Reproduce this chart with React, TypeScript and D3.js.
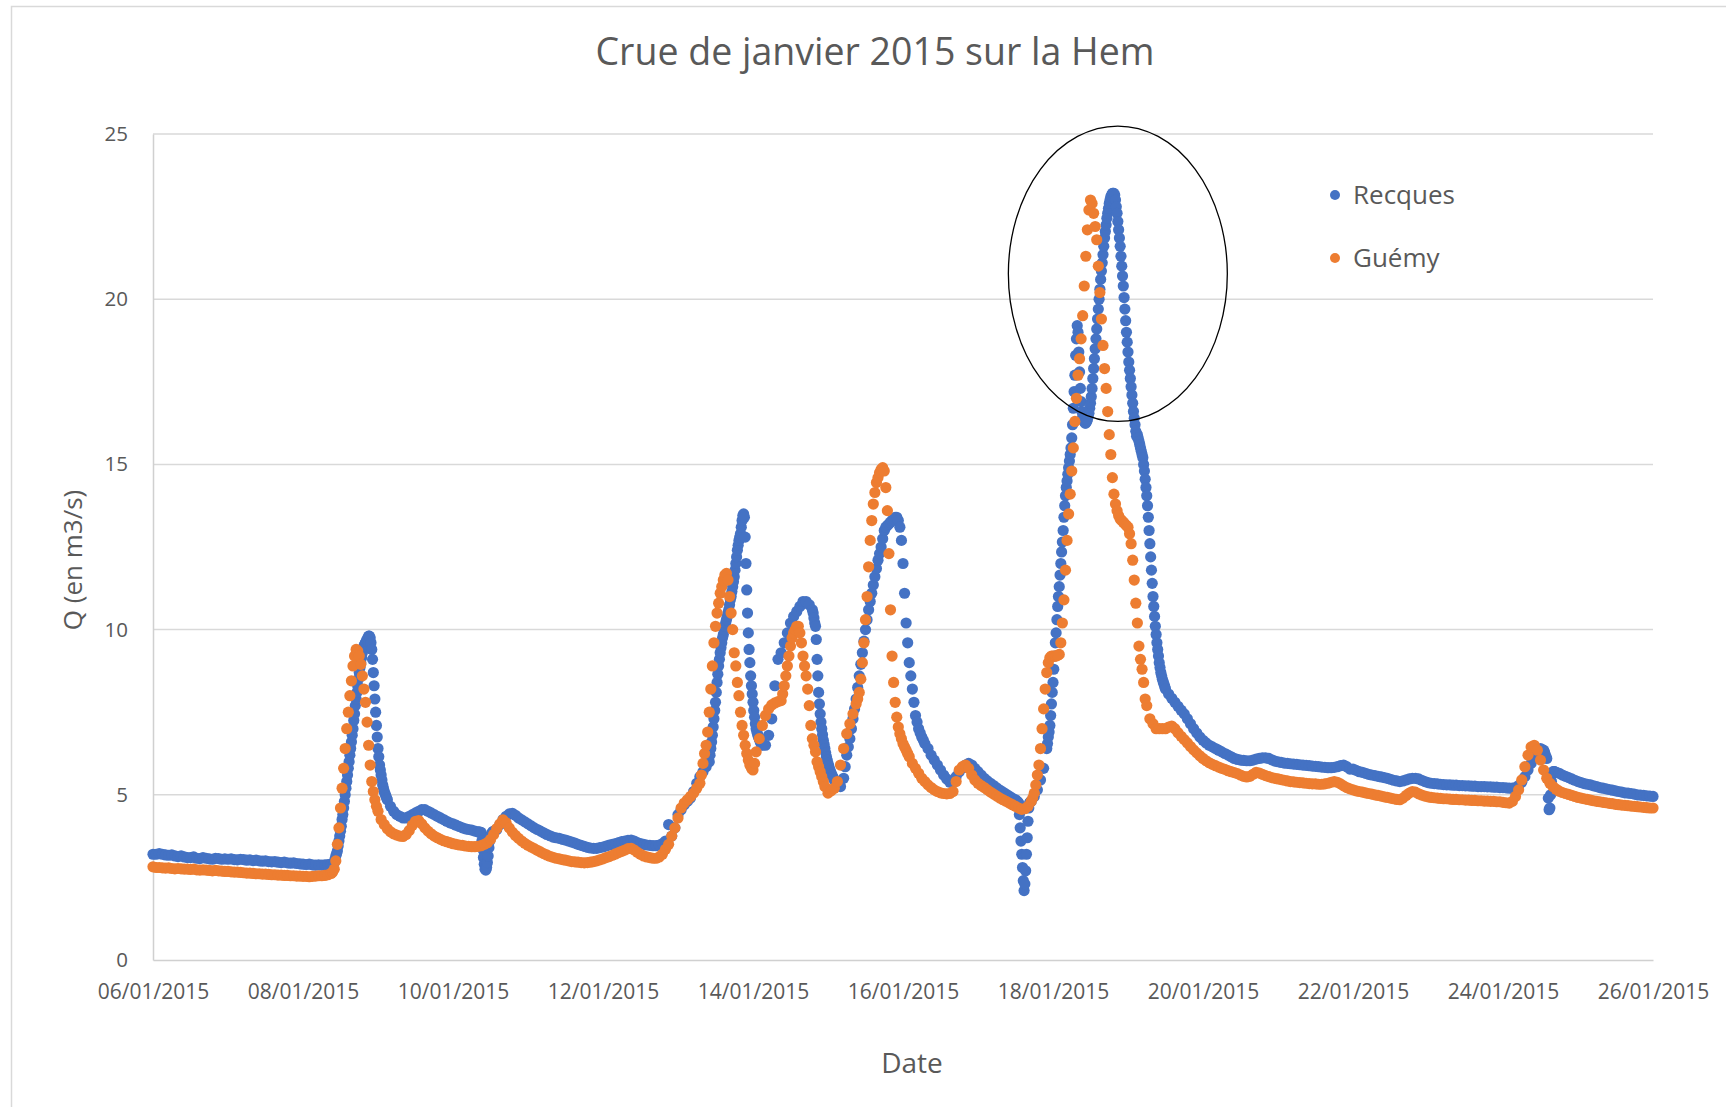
import React, { useEffect, useRef } from "react";
import * as d3 from "d3";

// débits relevés à l'oeil sur le graphique, du 06/01/2015 00h au 26/01/2015 00h
const startDate = new Date(2015, 0, 6);
const stepHours = 1;

// Recques (m3/s), pas horaire, une ligne par jour
const recques = [
  3.2, 3.2, 3.22, 3.2, 3.18, 3.17, 3.18, 3.15, 3.13, 3.15, 3.12, 3.1, 3.1, 3.12, 3.08, 3.07, 3.1, 3.08, 3.06, 3.05, 3.08, 3.07, 3.05, 3.06,
  3.05, 3.06, 3.04, 3.03, 3.05, 3.04, 3.02, 3.03, 3.01, 3.02, 3.0, 2.99, 3.0, 2.98, 2.97, 2.98, 2.96, 2.95, 2.96, 2.94, 2.93, 2.94, 2.92, 2.91,
  2.9, 2.89, 2.9, 2.88, 2.87, 2.88, 2.87, 2.88, 2.89, 2.9, 2.95, 3.3, 3.9, 4.6, 5.4, 6.2, 7.0, 7.9, 8.7, 9.3, 9.6, 9.8, 9.4, 7.9,
  6.4, 5.6, 5.1, 4.85, 4.65, 4.5, 4.4, 4.35, 4.3, 4.3, 4.35, 4.4, 4.45, 4.5, 4.55, 4.55, 4.5, 4.45, 4.4, 4.35, 4.3, 4.25, 4.2, 4.15,
  4.12, 4.08, 4.04, 4.0, 3.97, 3.95, 3.93, 3.9, 3.88, 3.86, 2.9, 2.95, 3.75, 3.9, 3.95, 4.1, 4.25, 4.35, 4.42, 4.44, 4.38, 4.3, 4.24, 4.18,
  4.12, 4.06, 4.0, 3.95, 3.9, 3.85, 3.8, 3.76, 3.72, 3.7, 3.68, 3.65, 3.63, 3.6, 3.57, 3.54, 3.5, 3.47, 3.44, 3.41, 3.39, 3.38, 3.38, 3.4,
  3.42, 3.45, 3.48, 3.5, 3.52, 3.55, 3.58, 3.6, 3.62, 3.63, 3.6, 3.55, 3.52, 3.5, 3.48, 3.47, 3.46, 3.46, 3.48, 3.52, 3.6, 4.1, 3.75, 4.0,
  4.4, 4.55, 4.7, 4.8, 4.9, 5.1, 5.35, 5.55, 5.7, 5.85, 6.0, 6.8, 7.8, 8.9, 9.6, 10.1, 10.5, 11.0, 11.6, 12.4, 12.9, 13.5, 11.2, 9.0,
  7.8, 7.0, 6.7, 6.5, 6.5, 6.8, 7.3, 8.3, 9.1, 9.3, 9.6, 9.9, 10.2, 10.4, 10.55, 10.7, 10.85, 10.85, 10.75, 10.6, 10.1, 8.1, 7.0, 6.4,
  5.95, 5.65, 5.45, 5.3, 5.25, 5.5, 6.2, 6.7, 7.3, 7.9, 8.6, 9.3, 10.0, 10.6, 11.1, 11.6, 12.1, 12.5, 13.0, 13.15, 13.25, 13.35, 13.4, 13.1,
  12.0, 10.2, 9.0, 8.2, 7.4, 7.0, 6.75, 6.55, 6.4, 6.2, 6.05, 5.9, 5.75, 5.6, 5.48, 5.38, 5.4, 5.55, 5.7, 5.82, 5.9, 5.95, 5.9, 5.8,
  5.7, 5.6, 5.5, 5.42, 5.35, 5.28, 5.21, 5.14, 5.08, 5.02, 4.96, 4.9, 4.85, 4.75, 3.2, 4.2, 4.8, 4.8, 4.95, 5.15, 5.45, 5.8, 6.4, 7.1,
  8.4, 9.9, 11.3, 12.65, 14.05, 14.9, 15.8, 17.7, 19.0, 16.9, 16.3, 16.35, 16.85, 17.9, 19.1, 20.3, 21.35, 22.25, 22.9, 23.2, 23.0, 22.1, 21.0, 19.7,
  18.4, 17.35, 16.4, 15.9, 15.5, 15.0, 14.05, 12.6, 11.0, 9.85, 9.0, 8.5, 8.2, 8.05, 7.92, 7.8, 7.68, 7.56, 7.45, 7.3, 7.15, 7.0, 6.87, 6.75,
  6.65, 6.57, 6.5, 6.45, 6.4, 6.35, 6.3, 6.25, 6.2, 6.15, 6.1, 6.07, 6.05, 6.04, 6.03, 6.03, 6.05, 6.08, 6.1, 6.12, 6.12, 6.1, 6.06, 6.02,
  6.0, 5.98, 5.96, 5.95, 5.94, 5.93, 5.92, 5.91, 5.9, 5.89, 5.88, 5.87, 5.86, 5.85, 5.84, 5.83, 5.82, 5.82, 5.83, 5.85, 5.88, 5.9, 5.85, 5.78,
  5.78, 5.74, 5.7, 5.68, 5.65, 5.62, 5.6, 5.58, 5.56, 5.54, 5.52, 5.5, 5.47, 5.44, 5.42, 5.4, 5.42, 5.45, 5.48, 5.5, 5.5, 5.48, 5.44, 5.4,
  5.37, 5.35, 5.34, 5.33, 5.32, 5.31, 5.3, 5.3, 5.29, 5.29, 5.28, 5.28, 5.27, 5.27, 5.26, 5.26, 5.25, 5.25, 5.25, 5.24, 5.24, 5.23, 5.23, 5.22,
  5.22, 5.21, 5.2, 5.2, 5.22, 5.28, 5.38, 5.55, 5.75, 5.95, 6.2, 6.36, 6.4, 6.35, 6.1, 4.6, 5.7, 5.68, 5.65, 5.6, 5.56, 5.52, 5.48, 5.44,
  5.4, 5.37, 5.34, 5.32, 5.3, 5.27, 5.25, 5.22, 5.2, 5.18, 5.16, 5.14, 5.12, 5.1, 5.08, 5.06, 5.05, 5.04, 5.02, 5.0, 4.99, 4.98, 4.97, 4.96,
  4.95,
];

// Recques pendant les crues et les décrochements : relevés plus fins
const recques0801 = [
  2.95, 3.05, 3.15, 3.22, 3.3, 3.45, 3.6, 3.75, 3.9, 4.05, 4.25, 4.4, 4.6, 4.8, 5.0, 5.2,
  5.4, 5.6, 5.8, 6.0, 6.2, 6.4, 6.6, 6.8, 7.0, 7.25, 7.45, 7.7, 7.9, 8.1, 8.3, 8.5,
  8.7, 8.85, 9.0, 9.15, 9.3, 9.4, 9.5, 9.55, 9.6, 9.65, 9.7, 9.75, 9.8, 9.8, 9.75, 9.6,
  9.4, 9.1, 8.7, 8.3, 7.9, 7.5, 7.1, 6.75, 6.4, 6.15, 5.9, 5.75, 5.6, 5.45, 5.3, 5.2,
  5.1, 5.03, 4.97, 4.9, 4.85,
];
const recques1001 = [
  3.88, 3.87, 3.87, 3.86, 3.86, 3.6, 3.35, 3.1, 2.9, 2.75, 2.72, 2.8,
  2.95, 3.15, 3.4, 3.6, 3.75, 3.8, 3.85, 3.88, 3.9,
];
const recques1301 = [
  6.0, 6.2, 6.4, 6.6, 6.8, 7.05, 7.3, 7.55, 7.8, 8.1, 8.4, 8.65, 8.9, 9.1, 9.3, 9.45,
  9.6, 9.75, 9.85, 10.0, 10.1, 10.2, 10.3, 10.4, 10.5, 10.6, 10.75, 10.9, 11.0, 11.15, 11.3, 11.45,
  11.6, 11.8, 12.0, 12.2, 12.4, 12.55, 12.7, 12.8, 12.9, 13.1, 13.3, 13.45, 13.5, 13.4, 12.8, 12.0,
  11.2, 10.5, 9.9, 9.4, 9.0, 8.6, 8.3, 8.05, 7.8, 7.55, 7.35, 7.15, 7.0, 6.9, 6.82, 6.75,
  6.7, 6.62, 6.57, 6.52, 6.5,
];
const recques1401 = [
  10.6, 10.5, 10.35, 10.2, 10.1, 9.7, 9.1, 8.6, 8.1, 7.75, 7.45, 7.2, 7.0, 6.82, 6.65, 6.52,
  6.4, 6.27, 6.15, 6.05, 5.95, 5.87, 5.78, 5.72, 5.65, 5.6, 5.55, 5.5, 5.45,
];
const recques1501 = [
  5.5, 5.85, 6.2, 6.45, 6.7, 7.0, 7.3, 7.6, 7.9, 8.25, 8.6, 8.95, 9.3, 9.65, 10.0, 10.3,
  10.6, 10.85, 11.1, 11.35, 11.6, 11.85, 12.1, 12.3, 12.5, 12.75, 13.0, 13.1, 13.15, 13.2, 13.25, 13.3,
  13.35, 13.4, 13.4, 13.3, 13.1, 12.7, 12.0, 11.1, 10.2, 9.6, 9.0, 8.6, 8.2, 7.8, 7.4, 7.2,
  7.0, 6.87, 6.75, 6.65, 6.55,
];
const recques1701 = [
  4.85, 4.82, 4.8, 4.78, 4.75, 4.4, 4.0, 3.6, 3.2, 2.8, 2.4, 2.1,
  2.3, 2.7, 3.2, 3.7, 4.2, 4.6, 4.75, 4.78, 4.8,
];
const recques1801 = [
  6.4, 6.55, 6.75, 6.9, 7.1, 7.4, 7.75, 8.1,
  8.4, 8.8, 9.2, 9.6, 9.9, 10.3, 10.7, 11.0, 11.3, 11.65, 12.0, 12.35, 12.65, 13.0, 13.4, 13.75,
  14.05, 14.3, 14.5, 14.7, 14.9, 15.1, 15.3, 15.5, 15.8, 16.2, 16.7, 17.2, 17.7, 18.3, 18.8, 19.2,
  19.0, 18.4, 17.8, 17.3, 16.9, 16.6, 16.45, 16.35, 16.3, 16.25, 16.25, 16.3, 16.35, 16.45, 16.55, 16.7,
  16.85, 17.05, 17.3, 17.6, 17.9, 18.2, 18.5, 18.8, 19.1, 19.4, 19.7, 20.0, 20.3, 20.6, 20.85, 21.1,
  21.35, 21.6, 21.85, 22.05, 22.25, 22.45, 22.6, 22.75, 22.9, 23.0, 23.1, 23.15, 23.2, 23.2, 23.2, 23.15,
  23.0, 22.8, 22.6, 22.35, 22.1, 21.85, 21.6, 21.3, 21.0, 20.7, 20.4, 20.05, 19.7, 19.35, 19.0, 18.7,
  18.4, 18.1, 17.85, 17.6, 17.35, 17.1, 16.85, 16.6, 16.4, 16.2, 16.0, 15.85, 15.9, 15.8, 15.7, 15.6,
  15.5, 15.4, 15.3, 15.2, 15.0, 14.8, 14.55, 14.3, 14.05, 13.75, 13.4, 13.0, 12.6, 12.2, 11.8, 11.4,
  11.0, 10.7, 10.4, 10.1, 9.85, 9.6, 9.4, 9.2, 9.0, 8.85, 8.7, 8.6, 8.5, 8.42, 8.35, 8.28,
  8.2,
];
const recques2401 = [
  6.35, 6.3, 6.22, 6.15, 6.1, 5.5, 4.9, 4.55, 4.6, 5.0, 5.4, 5.65, 5.7, 5.7, 5.7, 5.69, 5.68,
];
const recquesDetails = [
  { start: "08/01/2015 10:00", stepMinutes: 15, values: recques0801 },
  { start: "10/01/2015 08:00", stepMinutes: 15, values: recques1001 },
  { start: "13/01/2015 10:00", stepMinutes: 15, values: recques1301 },
  { start: "14/01/2015 19:00", stepMinutes: 15, values: recques1401 },
  { start: "15/01/2015 05:00", stepMinutes: 30, values: recques1501 },
  { start: "17/01/2015 12:00", stepMinutes: 15, values: recques1701 },
  { start: "17/01/2015 22:00", stepMinutes: 15, values: recques1801 },
  { start: "24/01/2015 13:00", stepMinutes: 15, values: recques2401 },
];

// Guémy (m3/s), pas horaire, une ligne par jour
const guemy = [
  2.82, 2.8, 2.8, 2.79, 2.78, 2.79, 2.77, 2.76, 2.77, 2.76, 2.75, 2.75, 2.74, 2.75, 2.73, 2.72, 2.73, 2.72, 2.71, 2.7, 2.71, 2.7, 2.69, 2.68,
  2.68, 2.67, 2.66, 2.66, 2.65, 2.64, 2.63, 2.63, 2.62, 2.61, 2.61, 2.6, 2.6, 2.59, 2.58, 2.58, 2.57, 2.57, 2.56, 2.56, 2.55, 2.55, 2.54, 2.54,
  2.53, 2.53, 2.52, 2.53, 2.54, 2.55, 2.55, 2.56, 2.58, 2.62, 2.75, 3.5, 4.6, 5.8, 7.0, 8.0, 8.9, 9.4, 9.2, 8.6, 7.8, 6.5, 5.4, 4.85,
  4.5, 4.25, 4.1, 3.97, 3.88, 3.82, 3.78, 3.75, 3.74, 3.8, 3.92, 4.08, 4.2, 4.22, 4.12, 4.0, 3.9, 3.82, 3.75, 3.7, 3.65, 3.61, 3.58, 3.55,
  3.52, 3.5, 3.48, 3.47, 3.45, 3.44, 3.43, 3.43, 3.44, 3.46, 3.5, 3.55, 3.65, 3.8, 3.98, 4.12, 4.24, 4.15, 4.0, 3.87, 3.77, 3.68, 3.6, 3.53,
  3.47, 3.42, 3.37, 3.32, 3.27, 3.22, 3.18, 3.14, 3.11, 3.08, 3.06, 3.04, 3.02, 3.0, 2.98, 2.97, 2.96, 2.95, 2.94, 2.95, 2.96, 2.98, 3.0, 3.03,
  3.06, 3.1, 3.13, 3.17, 3.21, 3.25, 3.29, 3.33, 3.37, 3.38, 3.33, 3.26, 3.2, 3.15, 3.12, 3.1, 3.08, 3.08, 3.12, 3.2, 3.35, 3.5, 3.75, 4.0,
  4.3, 4.6, 4.75, 4.85, 4.95, 5.05, 5.2, 5.35, 5.9, 6.3, 7.1, 8.6, 9.9, 10.7, 11.3, 11.6, 11.6, 11.1, 9.6, 8.5, 7.9, 6.9, 6.4, 6.0,
  5.75, 6.1, 6.7, 7.1, 7.4, 7.6, 7.72, 7.78, 7.82, 7.9, 8.3, 8.8, 9.4, 9.85, 10.05, 10.05, 9.4, 8.8, 7.8, 6.8, 6.3, 5.9, 5.5, 5.25,
  5.05, 5.12, 5.2, 5.4, 5.9, 6.4, 6.85, 7.15, 7.45, 7.75, 8.0, 9.0, 9.9, 11.0, 12.8, 14.0, 14.6, 14.8, 14.9, 13.9, 11.5, 8.5, 7.4, 6.9,
  6.6, 6.35, 6.15, 5.95, 5.8, 5.65, 5.5, 5.4, 5.3, 5.22, 5.15, 5.1, 5.06, 5.04, 5.03, 5.04, 5.1, 5.4, 5.75, 5.85, 5.9, 5.8, 5.6, 5.45,
  5.35, 5.28, 5.22, 5.15, 5.08, 5.02, 4.96, 4.9, 4.85, 4.8, 4.75, 4.7, 4.65, 4.6, 4.56, 4.58, 4.65, 4.8, 5.1, 5.5, 6.3, 7.6, 8.6, 9.15,
  9.2, 9.2, 9.25, 10.0, 12.0, 13.7, 15.2, 16.8, 18.1, 19.5, 21.3, 22.4, 23.0, 22.6, 21.8, 20.4, 18.6, 17.5, 16.2, 14.6, 13.8, 13.4, 13.3, 13.2,
  13.1, 12.7, 11.6, 10.2, 9.3, 8.6, 7.7, 7.3, 7.15, 7.0, 7.0, 7.0, 7.0, 7.05, 7.08, 7.0, 6.88, 6.77, 6.67, 6.57, 6.46, 6.36, 6.27, 6.18,
  6.1, 6.03, 5.97, 5.92, 5.88, 5.84, 5.8, 5.77, 5.73, 5.7, 5.67, 5.64, 5.6, 5.56, 5.54, 5.56, 5.62, 5.68, 5.66, 5.62, 5.58, 5.55, 5.52, 5.5,
  5.48, 5.46, 5.44, 5.42, 5.4, 5.39, 5.38, 5.37, 5.36, 5.35, 5.34, 5.33, 5.33, 5.32, 5.32, 5.33, 5.35, 5.38, 5.4, 5.38, 5.33, 5.27, 5.22, 5.18,
  5.15, 5.12, 5.1, 5.08, 5.06, 5.04, 5.02, 5.0, 4.98, 4.96, 4.94, 4.92, 4.9, 4.88, 4.86, 4.85, 4.9, 4.98, 5.05, 5.1, 5.08, 5.03, 4.99, 4.96,
  4.94, 4.92, 4.91, 4.9, 4.89, 4.88, 4.88, 4.87, 4.86, 4.86, 4.85, 4.85, 4.84, 4.84, 4.83, 4.83, 4.82, 4.82, 4.81, 4.81, 4.8, 4.8, 4.79, 4.79,
  4.77, 4.76, 4.75, 4.8, 4.95, 5.15, 5.45, 5.85, 6.2, 6.45, 6.5, 6.35, 6.05, 5.75, 5.5, 5.35, 5.25, 5.17, 5.11, 5.07, 5.04, 5.01, 4.98, 4.95,
  4.92, 4.9, 4.88, 4.86, 4.84, 4.82, 4.8, 4.79, 4.77, 4.76, 4.74, 4.73, 4.71, 4.7, 4.69, 4.68, 4.67, 4.66, 4.65, 4.64, 4.63, 4.62, 4.61, 4.6,
  4.6,
];

// Guémy pendant les crues : relevés à la demi-heure (une ligne par bloc de 8 h environ)
const guemy0801 = [
  2.62, 2.66, 2.75, 3.0, 3.5, 4.0, 4.6, 5.2, 5.8, 6.4, 7.0, 7.5, 8.0, 8.45, 8.9, 9.2,
  9.4, 9.35, 9.2, 8.95, 8.6, 8.2, 7.8, 7.2, 6.5, 5.9, 5.4, 5.1, 4.85, 4.65, 4.5,
];
const guemy1301 = [
  5.35, 5.6, 5.95, 6.25, 6.5, 6.9, 7.5, 8.2, 8.9, 9.6, 10.1, 10.5, 10.8, 11.1, 11.3, 11.5,
  11.65, 11.7, 11.5, 11.0, 10.5, 10.0, 9.3, 8.9, 8.4, 8.0, 7.5, 7.1, 6.8, 6.5, 6.25, 6.05,
  5.9, 5.8, 5.75, 5.95, 6.3,
];
const guemy1401 = [
  7.85, 8.05, 8.3, 8.6, 8.9, 9.2, 9.5, 9.75, 9.9, 10.0, 10.1, 10.1, 9.9, 9.6, 9.2, 8.9,
  8.6, 8.2, 7.7, 7.1, 6.7, 6.5, 6.3, 6.0, 5.85, 5.7, 5.55, 5.4, 5.25,
];
const guemy1501 = [
  7.75, 7.9, 8.1, 8.5, 9.0, 9.6, 10.3, 11.0, 11.9, 12.7, 13.3, 13.8, 14.15, 14.45, 14.6, 14.75,
  14.85, 14.9, 14.8, 14.3, 13.6, 12.3, 10.6, 9.2, 8.4, 7.8, 7.35, 7.05, 6.85, 6.7, 6.55, 6.45,
  6.35, 6.25, 6.15,
];
const guemy1701 = [
  4.8, 4.9, 5.05, 5.3, 5.6, 5.9, 6.4, 7.0, 7.6, 8.2, 8.7, 9.0, 9.15, 9.2,
  9.2, 9.2, 9.2, 9.22, 9.25, 9.6, 10.2, 10.9, 11.8, 12.7, 13.5, 14.1, 14.8, 15.5, 16.3, 17.0,
  17.7, 18.2, 18.8, 19.5, 20.4, 21.3, 22.1, 22.7, 23.0, 22.9, 22.6, 22.2, 21.8, 21.0, 20.2, 19.4,
  18.6, 17.9, 17.3, 16.6, 15.9, 15.3, 14.6, 14.1, 13.8, 13.6, 13.45, 13.35, 13.3, 13.25, 13.2, 13.15,
  13.1, 12.9, 12.6, 12.1, 11.5, 10.8, 10.2, 9.5, 9.1, 8.8, 8.4, 7.9, 7.7,
];
const guemyDetails = [
  { start: "08/01/2015 09:00", stepMinutes: 30, values: guemy0801 },
  { start: "13/01/2015 07:00", stepMinutes: 30, values: guemy1301 },
  { start: "14/01/2015 09:00", stepMinutes: 30, values: guemy1401 },
  { start: "15/01/2015 09:00", stepMinutes: 30, values: guemy1501 },
  { start: "17/01/2015 17:00", stepMinutes: 30, values: guemy1701 },
];

const seriesNames = ["Recques", "Guémy"];
const seriesColors = ["#4472C4", "#ED7D31"];
const yTicks = [0, 5, 10, 15, 20, 25];
const xTickLabels = [
  "06/01/2015", "08/01/2015", "10/01/2015", "12/01/2015", "14/01/2015", "16/01/2015",
  "18/01/2015", "20/01/2015", "22/01/2015", "24/01/2015", "26/01/2015",
];
const title = "Crue de janvier 2015 sur la Hem";
const xTitle = "Date";
const yTitle = "Q (en m3/s)";

// ellipse dessinée à la main autour du pic du 18-19/01 (centre en date/débit, demi-axes en jours/débit)
const highlight = { date: new Date(2015, 0, 18, 20, 45), value: 20.77, halfDays: 1.46, halfValue: 4.47 };

const width = 1726;
const height = 1107;
const margin = { top: 134, right: 73, bottom: 147, left: 153 };
const font = "'Open Sans', 'Noto Sans', sans-serif";
const textColor = "#595959";

type Point = { date: Date; value: number };
type Detail = { start: string; stepMinutes: number; values: number[] };

const parseTime = d3.timeParse("%d/%m/%Y %H:%M");

// série horaire dont on remplace les heures couvertes par les relevés fins
function buildSeries(hourlyValues: number[], details: Detail[]): Point[] {
  const windows = details.map((s) => {
    const t0 = parseTime(s.start) as Date;
    const pts = s.values.map((v, i) => ({ date: d3.timeMinute.offset(t0, i * s.stepMinutes), value: v }));
    return { from: t0, to: pts[pts.length - 1].date, pts };
  });
  const inWindow = (d: Date) => windows.some((w) => d >= w.from && d <= w.to);
  return hourlyValues
    .map((v, i) => ({ date: d3.timeHour.offset(startDate, i * stepHours), value: v }))
    .filter((p) => !inWindow(p.date))
    .concat(...windows.map((w) => w.pts))
    .sort((a, b) => +a.date - +b.date);
}

export default function App() {
  const ref = useRef<SVGSVGElement>(null);

  useEffect(() => {
    const svg = d3.select(ref.current);
    svg.selectAll("*").remove();

    const parseDate = d3.timeParse("%d/%m/%Y");
    const tickDates = xTickLabels.map((l) => parseDate(l) as Date);

    const x = d3.scaleTime()
      .domain([tickDates[0], tickDates[tickDates.length - 1]])
      .range([margin.left, width - margin.right]);
    const y = d3.scaleLinear()
      .domain([yTicks[0], yTicks[yTicks.length - 1]])
      .range([height - margin.bottom, margin.top]);

    // cadre du graphique
    svg.append("rect")
      .attr("x", 11.5).attr("y", 6.5)
      .attr("width", width).attr("height", height)
      .attr("fill", "#ffffff")
      .attr("stroke", "#d9d9d9")
      .attr("stroke-width", 1.5);

    svg.append("text")
      .attr("x", 875).attr("y", 65)
      .attr("text-anchor", "middle")
      .attr("font-family", font)
      .attr("font-size", 37.5)
      .attr("fill", textColor)
      .text(title);

    // grille horizontale
    svg.append("g")
      .selectAll("line")
      .data(yTicks.slice(1))
      .join("line")
      .attr("x1", margin.left).attr("x2", width - margin.right)
      .attr("y1", (d) => y(d)).attr("y2", (d) => y(d))
      .attr("stroke", "#d9d9d9")
      .attr("stroke-width", 1.5);

    // axes
    const yAxis = svg.append("g")
      .attr("transform", `translate(${margin.left},0)`)
      .call(d3.axisLeft(y).tickValues(yTicks).tickSize(0).tickPadding(25));
    yAxis.select(".domain").attr("stroke", "#d0d0d0").attr("stroke-width", 1.5);
    yAxis.attr("font-family", font).attr("font-size", 20.5);
    yAxis.selectAll("text").attr("fill", textColor);

    const xAxis = svg.append("g")
      .attr("transform", `translate(0,${height - margin.bottom})`)
      .call(d3.axisBottom(x).tickValues(tickDates).tickSize(0).tickPadding(24)
        .tickFormat((d) => d3.timeFormat("%d/%m/%Y")(d as Date)));
    xAxis.select(".domain").attr("stroke", "#d0d0d0").attr("stroke-width", 1.5);
    xAxis.attr("font-family", font).attr("font-size", 21);
    xAxis.selectAll("text").attr("fill", textColor);

    svg.append("text")
      .attr("x", 912).attr("y", 1073)
      .attr("text-anchor", "middle")
      .attr("font-family", font)
      .attr("font-size", 28)
      .attr("fill", textColor)
      .text(xTitle);

    svg.append("text")
      .attr("transform", `translate(82,560) rotate(-90)`)
      .attr("text-anchor", "middle")
      .attr("font-family", font)
      .attr("font-size", 26)
      .attr("fill", textColor)
      .text(yTitle);

    // nuages de points, Guémy par-dessus Recques
    const series = [buildSeries(recques, recquesDetails), buildSeries(guemy, guemyDetails)];
    series.forEach((pts, k) => {
      svg.append("g")
        .selectAll("circle")
        .data(pts)
        .join("circle")
        .attr("cx", (d) => x(d.date))
        .attr("cy", (d) => y(d.value))
        .attr("r", 5.6)
        .attr("fill", seriesColors[k]);
    });

    // légende
    const legend = svg.append("g");
    seriesNames.forEach((name, k) => {
      const ly = 195 + k * 63;
      legend.append("circle")
        .attr("cx", 1335).attr("cy", ly).attr("r", 5)
        .attr("fill", seriesColors[k]);
      legend.append("text")
        .attr("x", 1353).attr("y", ly + 9)
        .attr("font-family", font)
        .attr("font-size", 26)
        .attr("fill", textColor)
        .text(name);
    });

    // ellipse autour du pic
    const cx = x(highlight.date);
    const cy = y(highlight.value);
    svg.append("ellipse")
      .attr("cx", cx)
      .attr("cy", cy)
      .attr("rx", x(d3.timeMinute.offset(highlight.date, highlight.halfDays * 1440)) - cx)
      .attr("ry", y(highlight.value - highlight.halfValue) - cy)
      .attr("fill", "none")
      .attr("stroke", "#000000")
      .attr("stroke-width", 1.3);
  }, []);

  return (
    <svg
      ref={ref}
      width={width}
      height={height}
      style={{ position: "absolute", left: 0, top: 0, background: "#ffffff" }}
    />
  );
}
